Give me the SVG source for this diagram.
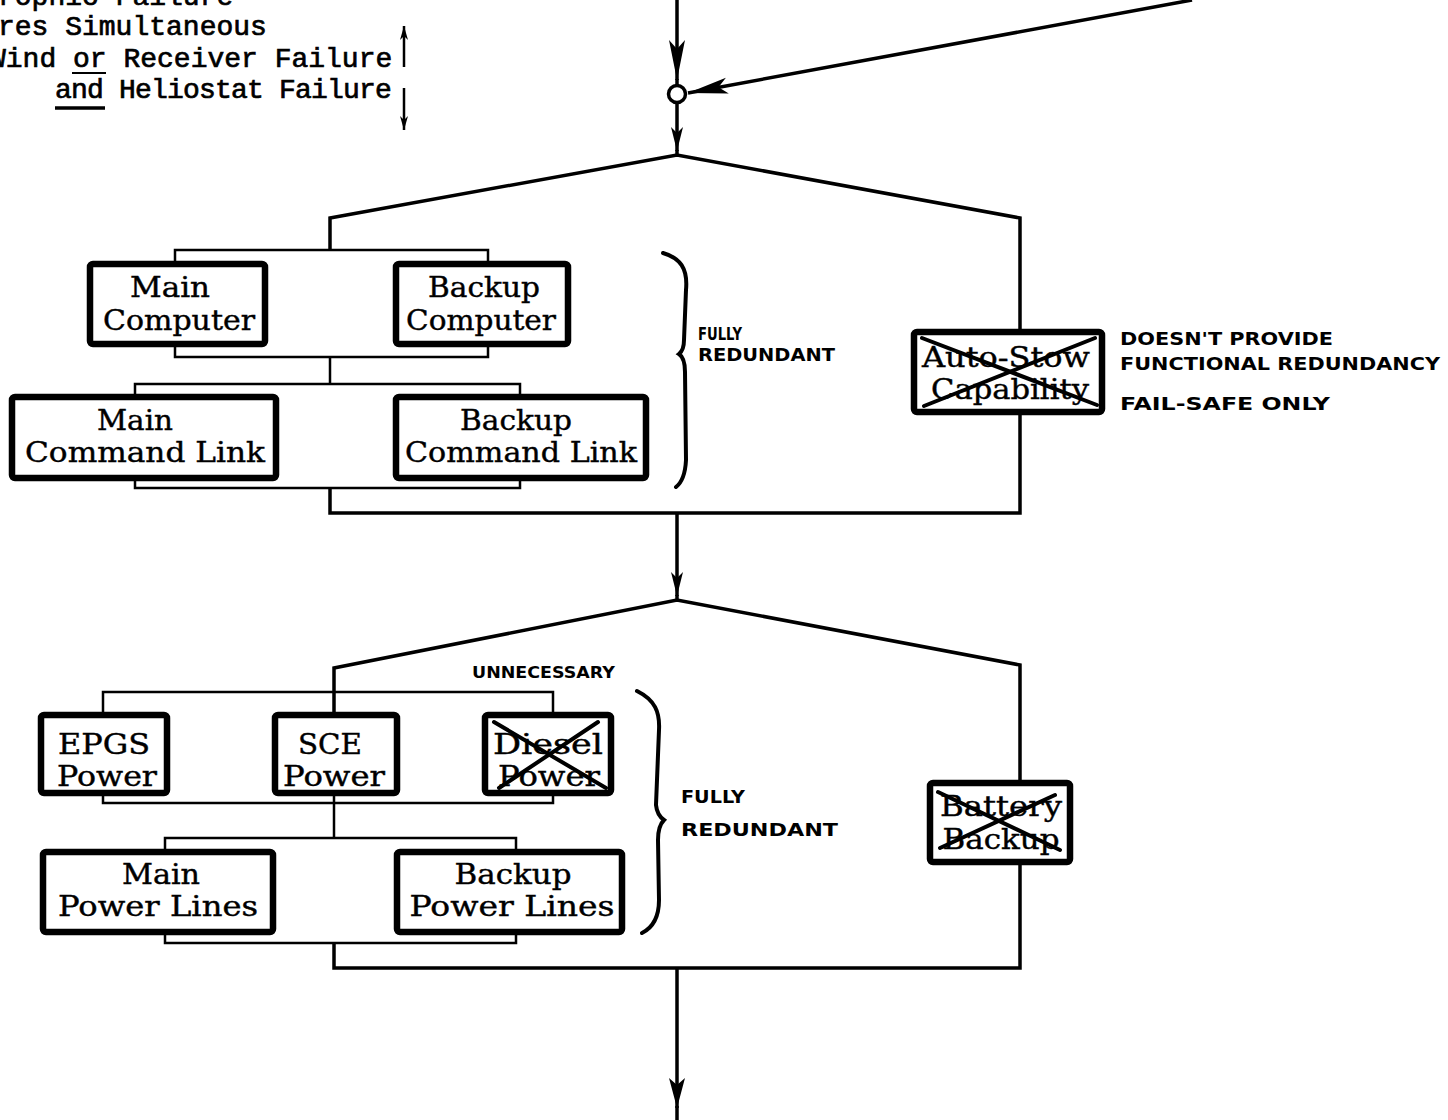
<svg xmlns="http://www.w3.org/2000/svg" width="1448" height="1120" viewBox="0 0 1448 1120">
  <style>
    .tw { font-family: "Liberation Mono", "Courier New", monospace; font-size: 28px; fill: #000; stroke: #000; stroke-width: 0.7px; }
    .bt { font-family: "DejaVu Serif", "Liberation Serif", serif; font-size: 27px; text-anchor: middle; fill: #000; stroke: #000; stroke-width: 0.4px; }
    .hand { font-family: "DejaVu Sans", "Liberation Sans", sans-serif; font-weight: bold; font-size: 18px; fill: #000; }
    .box { fill: #fff; stroke: #000; stroke-width: 6.5; }
    .flow { fill: none; stroke: #000; stroke-width: 3.5; stroke-linejoin: miter; }
    .bus { fill: none; stroke: #000; stroke-width: 2.5; }
    .brace { fill: none; stroke: #000; stroke-width: 4; stroke-linecap: round; }
    .cross { stroke: #000; stroke-width: 4; stroke-linecap: round; }
  </style>
  <defs>
    <marker id="head-long" markerUnits="userSpaceOnUse" viewBox="-42 -10 44 20" refX="0" refY="0" markerWidth="44" markerHeight="20" orient="auto">
      <path d="M0,0 L-40,-8 L-31,0 L-40,8 Z" fill="#000"/>
    </marker>
    <marker id="head" markerUnits="userSpaceOnUse" viewBox="-32 -10 34 20" refX="0" refY="0" markerWidth="34" markerHeight="20" orient="auto">
      <path d="M0,0 L-30,-8 L-23,0 L-30,8 Z" fill="#000"/>
    </marker>
    <marker id="head-small" markerUnits="userSpaceOnUse" viewBox="-26 -8 28 16" refX="0" refY="0" markerWidth="28" markerHeight="16" orient="auto">
      <path d="M0,0 L-24,-6 L-18,0 L-24,6 Z" fill="#000"/>
    </marker>
    <marker id="head-tiny" markerUnits="userSpaceOnUse" viewBox="-16 -6 18 12" refX="0" refY="0" markerWidth="18" markerHeight="12" orient="auto">
      <path d="M0,0 L-14,-4 L-10,0 L-14,4 Z" fill="#000"/>
    </marker>
  </defs>
  <rect width="1448" height="1120" fill="#fff"/>

  <!-- legend text, upper left -->
  <g id="legend">
    <text class="tw" x="-2" y="5">rophic Failure</text>
    <text class="tw" x="-2" y="35">res Simultaneous</text>
    <text class="tw" x="-11" y="67">Wind or Receiver Failure</text>
    <text class="tw" x="55" y="98" style="letter-spacing:-0.8px">and Heliostat Failure</text>
    <line x1="72" y1="73" x2="106" y2="73" stroke="#000" stroke-width="2"/>
    <line x1="55" y1="108" x2="105" y2="108" stroke="#000" stroke-width="3.5"/>
    <line x1="404" y1="67" x2="404" y2="26" stroke="#000" stroke-width="2.5" marker-end="url(#head-tiny)"/>
    <line x1="404" y1="88" x2="404" y2="130" stroke="#000" stroke-width="2.5" marker-end="url(#head-tiny)"/>
  </g>

  <!-- connectors -->
  <g id="connectors">
    <!-- inputs into the junction -->
    <path class="flow" d="M677,0 V80" marker-end="url(#head-long)"/>
    <path class="flow" d="M677,79 V86"/>
    <path class="flow" stroke-width="4" d="M1192,0 L688,93" marker-end="url(#head-long)"/>
    <circle cx="677" cy="94" r="8.5" fill="#fff" stroke="#000" stroke-width="3.5"/>
    <path class="flow" d="M677,103 V151" marker-end="url(#head-small)"/>
    <path class="flow" d="M677,150 V156"/>

    <!-- control section -->
    <path class="flow" d="M330,250 V218 L677,155 L1020,218 V332"/>
    <path class="flow" d="M1020,412 V513 H330 V488"/>
    <path class="bus" d="M175,264 V250 H488 V264"/>
    <path class="bus" d="M175,344 V357 H488 V344"/>
    <path class="bus" d="M330,357 V384"/>
    <path class="bus" d="M135,397 V384 H520 V397"/>
    <path class="bus" d="M135,478 V488 H520 V478"/>

    <!-- between sections -->
    <path class="flow" d="M677,513 V596" marker-end="url(#head-small)"/>
    <path class="flow" d="M677,595 V601"/>

    <!-- power section -->
    <path class="flow" d="M334,715 V668 L677,600 L1020,665 V783"/>
    <path class="flow" d="M1020,862 V968 H334 V943"/>
    <path class="bus" d="M103,715 V692 H553 V715"/>
    <path class="bus" d="M103,793 V803 H553 V793"/>
    <path class="bus" d="M334,793 V838"/>
    <path class="bus" d="M165,852 V838 H516 V852"/>
    <path class="bus" d="M165,932 V943 H516 V932"/>

    <!-- output -->
    <path class="flow" d="M677,968 V1108" marker-end="url(#head)"/>
    <path class="flow" d="M677,1106 V1120"/>
  </g>

  <!-- control section nodes -->
  <g id="main-computer">
    <rect class="box" x="90" y="264" width="175" height="80" rx="3"/>
    <text class="bt" x="170" y="297" textLength="80" lengthAdjust="spacingAndGlyphs">Main</text>
    <text class="bt" x="179" y="330" textLength="152" lengthAdjust="spacingAndGlyphs">Computer</text>
  </g>
  <g id="backup-computer">
    <rect class="box" x="396" y="264" width="172" height="80" rx="3"/>
    <text class="bt" x="484" y="297" textLength="112" lengthAdjust="spacingAndGlyphs">Backup</text>
    <text class="bt" x="481" y="330" textLength="150" lengthAdjust="spacingAndGlyphs">Computer</text>
  </g>
  <g id="main-command-link">
    <rect class="box" x="12" y="397" width="264" height="81" rx="3"/>
    <text class="bt" x="135" y="430" textLength="76" lengthAdjust="spacingAndGlyphs">Main</text>
    <text class="bt" x="145" y="462" textLength="240" lengthAdjust="spacingAndGlyphs">Command Link</text>
  </g>
  <g id="backup-command-link">
    <rect class="box" x="396" y="397" width="250" height="81" rx="3"/>
    <text class="bt" x="516" y="430" textLength="112" lengthAdjust="spacingAndGlyphs">Backup</text>
    <text class="bt" x="521" y="462" textLength="232" lengthAdjust="spacingAndGlyphs">Command Link</text>
  </g>
  <g id="auto-stow">
    <rect class="box" x="914" y="332" width="188" height="80" rx="3"/>
    <text class="bt" x="1006" y="367" textLength="168" lengthAdjust="spacingAndGlyphs">Auto-Stow</text>
    <text class="bt" x="1010" y="399" textLength="158" lengthAdjust="spacingAndGlyphs">Capability</text>
    <line class="cross" x1="922" y1="338" x2="1097" y2="405"/>
    <line class="cross" x1="1095" y1="338" x2="924" y2="406"/>
  </g>

  <!-- control section notes -->
  <g id="control-notes">
    <path class="brace" d="M663,253 C680,258 688,268 686,290 L684,340 Q684,350 679,354 Q685,358 685,372 L686,460 Q685,480 676,487"/>
    <text class="hand" x="698" y="340" style="font-size:17px" textLength="44" lengthAdjust="spacingAndGlyphs">FULLY</text>
    <text class="hand" x="698" y="361" style="font-size:17px" textLength="137" lengthAdjust="spacingAndGlyphs">REDUNDANT</text>
    <text class="hand" x="1120" y="345" textLength="213" lengthAdjust="spacingAndGlyphs">DOESN'T PROVIDE</text>
    <text class="hand" x="1120" y="370" textLength="320" lengthAdjust="spacingAndGlyphs">FUNCTIONAL REDUNDANCY</text>
    <text class="hand" x="1120" y="410" textLength="210" lengthAdjust="spacingAndGlyphs">FAIL-SAFE ONLY</text>
  </g>

  <!-- power section nodes -->
  <g id="epgs-power">
    <rect class="box" x="41" y="715" width="126" height="78" rx="3"/>
    <text class="bt" x="104" y="754" textLength="92" lengthAdjust="spacingAndGlyphs">EPGS</text>
    <text class="bt" x="107" y="786" textLength="100" lengthAdjust="spacingAndGlyphs">Power</text>
  </g>
  <g id="sce-power">
    <rect class="box" x="275" y="715" width="122" height="78" rx="3"/>
    <text class="bt" x="330" y="754" textLength="64" lengthAdjust="spacingAndGlyphs">SCE</text>
    <text class="bt" x="334" y="786" textLength="102" lengthAdjust="spacingAndGlyphs">Power</text>
  </g>
  <g id="diesel-power">
    <rect class="box" x="485" y="715" width="126" height="78" rx="3"/>
    <text class="bt" x="548" y="754" textLength="110" lengthAdjust="spacingAndGlyphs">Diesel</text>
    <text class="bt" x="549" y="786" textLength="102" lengthAdjust="spacingAndGlyphs">Power</text>
    <line class="cross" x1="494" y1="722" x2="606" y2="788"/>
    <line class="cross" x1="598" y1="722" x2="499" y2="788"/>
  </g>
  <g id="main-power-lines">
    <rect class="box" x="43" y="852" width="230" height="80" rx="3"/>
    <text class="bt" x="161" y="884" textLength="78" lengthAdjust="spacingAndGlyphs">Main</text>
    <text class="bt" x="158" y="916" textLength="200" lengthAdjust="spacingAndGlyphs">Power Lines</text>
  </g>
  <g id="backup-power-lines">
    <rect class="box" x="397" y="852" width="225" height="80" rx="3"/>
    <text class="bt" x="513" y="884" textLength="117" lengthAdjust="spacingAndGlyphs">Backup</text>
    <text class="bt" x="512" y="916" textLength="205" lengthAdjust="spacingAndGlyphs">Power Lines</text>
  </g>
  <g id="battery-backup">
    <rect class="box" x="930" y="783" width="140" height="79" rx="3"/>
    <text class="bt" x="1001" y="816" textLength="122" lengthAdjust="spacingAndGlyphs">Battery</text>
    <text class="bt" x="1001" y="849" textLength="117" lengthAdjust="spacingAndGlyphs">Backup</text>
    <line class="cross" x1="938" y1="792" x2="1060" y2="850"/>
    <line class="cross" x1="1055" y1="795" x2="940" y2="848"/>
  </g>

  <!-- power section notes -->
  <g id="power-notes">
    <path class="brace" d="M637,691 C655,700 660,712 659,730 L656,805 Q657,815 664,820 Q658,826 658,840 L659,900 C659,918 652,928 642,933"/>
    <text class="hand" x="472" y="678" style="font-size:15px" textLength="143" lengthAdjust="spacingAndGlyphs">UNNECESSARY</text>
    <text class="hand" x="681" y="803" textLength="64" lengthAdjust="spacingAndGlyphs">FULLY</text>
    <text class="hand" x="681" y="836" textLength="157" lengthAdjust="spacingAndGlyphs">REDUNDANT</text>
  </g>
</svg>
